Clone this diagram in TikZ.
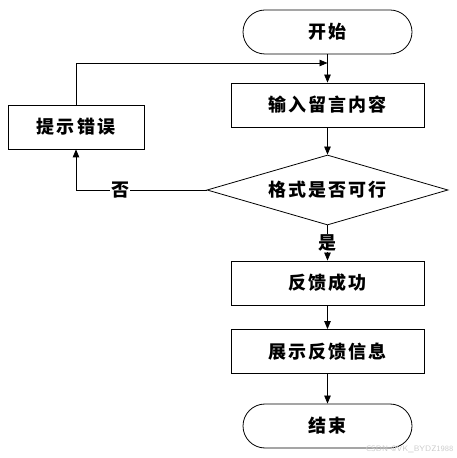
\documentclass[tikz,border=0pt]{standalone}
\usepackage{fontspec}
\newfontfamily\cjk{Noto Sans CJK SC}[LetterSpace=12]
\usetikzlibrary{arrows.meta,shapes.geometric}

\tikzset{
  every node/.style={font=\cjk\bfseries\fontsize{18}{21}\selectfont},
  stepbox/.style={draw, line width=0.8pt, minimum width=193pt, minimum height=44pt, inner sep=0pt},
  termbox/.style={draw, line width=0.8pt, rounded corners=22pt, minimum width=169pt, minimum height=44pt, inner sep=0pt},
  decbox/.style={draw, line width=0.8pt, diamond, aspect=3.44, minimum width=241pt, minimum height=70pt, inner sep=0pt},
  arr/.style={line width=0.8pt, -{Triangle[length=8pt,width=6.5pt]}},
  lbl/.style={fill=white, inner sep=1pt}
}

\begin{document}
\begin{tikzpicture}[x=1pt, y=1pt]
  \useasboundingbox (0,0) rectangle (457,458);

  % main column (pixel rows flipped: y = 458 - row)
  \node[termbox] (start) at (327.5,426) {开始};
  \node[stepbox] (input) at (327.5,353) {输入留言内容};
  \node[decbox]  (check) at (327.5,268) {格式是否可行};
  \node[stepbox] (ok)    at (327.5,175) {反馈成功};
  \node[stepbox] (show)  at (327.5,106.5) {展示反馈信息};
  \node[termbox] (end)   at (327.5,32) {结束};

  % error box on the left
  \node[draw, line width=0.8pt, minimum width=136pt, minimum height=44pt, inner sep=0pt]
    (err) at (76,331) {提示错误};

  % loop back joins the main line here
  \coordinate (join) at (327.5,395);

  \draw[arr] (start) -- (input);
  \draw[arr] (input) -- (check);
  \draw[arr] (check.west) -| node[lbl, pos=0.33] {否} (err.south);
  \draw[arr] (err.north) |- (join);
  \draw[arr] (check) -- node[lbl] {是} (ok);
  \draw[arr] (ok) -- (show);
  \draw[arr] (show) -- (end);

  % watermark
  \node[font=\sffamily\fontsize{8}{9}\selectfont, text=black!20, anchor=south east]
    (mark) at (457,2) {CSDN @VK\_BYDZ1988};
\end{tikzpicture}
\end{document}
